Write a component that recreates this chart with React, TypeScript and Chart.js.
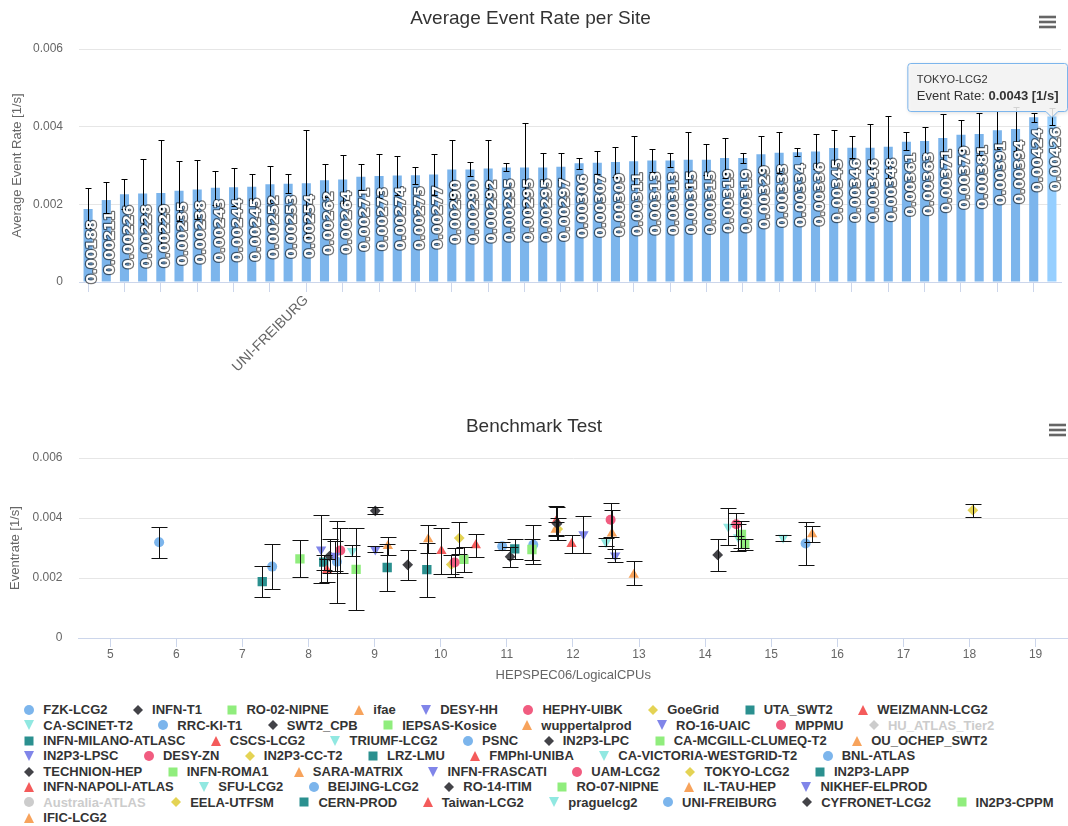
import React, { useEffect, useRef } from 'react';
import { Chart, registerables } from 'chart.js';

Chart.register(...registerables);

// ---------- data ----------
const barSites = [
  'INFN-MILANO-ATLASC', 'wuppertalprod', 'CSCS-LCG2', 'CERN-PROD', 'INFN-ROMA1', 'LRZ-LMU', 'PSNC', 'Australia-ATLAS', 'RO-14-ITIM', 'EELA-UTFSM',
  'UAM-LCG2', 'IN2P3-LAPP', 'UNI-FREIBURG', 'RO-07-NIPNE', 'IEPSAS-Kosice', 'CYFRONET-LCG2', 'TECHNION-HEP', 'RO-16-UAIC', 'INFN-FRASCATI', 'SWT2_CPB',
  'INFN-NAPOLI-ATLAS', 'SFU-LCG2', 'DESY-ZN', 'NIKHEF-ELPROD', 'IN2P3-LPSC', 'RO-02-NIPNE', 'UTA_SWT2', 'FZK-LCG2', 'IL-TAU-HEP', 'FMPhI-UNIBA',
  'RRC-KI-T1', 'Taiwan-LCG2', 'IN2P3-CPPM', 'BNL-ATLAS', 'HU_ATLAS_Tier2', 'BEIJING-LCG2', 'TRIUMF-LCG2', 'SARA-MATRIX', 'IN2P3-CC-T2', 'praguelcg2',
  'CA-VICTORIA-WESTGRID-T2', 'CA-MCGILL-CLUMEQ-T2', 'OU_OCHEP_SWT2', 'DESY-HH', 'IFIC-LCG2', 'ifae', 'GoeGrid', 'CA-SCINET-T2', 'MPPMU', 'INFN-T1',
  'WEIZMANN-LCG2', 'HEPHY-UIBK', 'IN2P3-LPC', 'TOKYO-LCG2',
];

const barValues = [
  0.00188, 0.00211, 0.00226, 0.00228, 0.00229, 0.00235, 0.00238, 0.00243, 0.00244, 0.00245,
  0.00252, 0.00253, 0.00254, 0.00262, 0.00264, 0.00271, 0.00273, 0.00274, 0.00275, 0.00277,
  0.0029, 0.0029, 0.00292, 0.00295, 0.00295, 0.00295, 0.00297, 0.00306, 0.00307, 0.00309,
  0.00311, 0.00313, 0.00313, 0.00315, 0.00315, 0.00319, 0.00319, 0.00329, 0.00333, 0.00334,
  0.00336, 0.00345, 0.00346, 0.00346, 0.00348, 0.00361, 0.00363, 0.00371, 0.00379, 0.00381,
  0.00391, 0.00394, 0.00424, 0.00426,
];

const barErrLow = [
  0.00138, 0.00178, 0.00188, 0.00138, 0.00092, 0.00158, 0.00163, 0.00199, 0.00195, 0.00212,
  0.00204, 0.00228, 0.00117, 0.0022, 0.00204, 0.00238, 0.00217, 0.00223, 0.00252, 0.00225,
  0.00214, 0.00273, 0.00218, 0.00286, 0.00182, 0.00259, 0.00263, 0.00292, 0.00277, 0.0027,
  0.00247, 0.00284, 0.00295, 0.00245, 0.00275, 0.00268, 0.00307, 0.00282, 0.00281, 0.00325,
  0.00291, 0.00299, 0.00319, 0.00285, 0.00268, 0.0034, 0.00326, 0.00309, 0.00341, 0.00326,
  0.00342, 0.00337, 0.00412, 0.00404,
];

const barErrHigh = [
  0.00241, 0.00258, 0.00264, 0.00318, 0.00366, 0.00312, 0.00313, 0.00287, 0.00293, 0.00278,
  0.003, 0.00278, 0.00391, 0.00304, 0.00326, 0.00304, 0.00329, 0.00325, 0.00297, 0.00329,
  0.00366, 0.00309, 0.00366, 0.00306, 0.0041, 0.00331, 0.00331, 0.0032, 0.00337, 0.00348,
  0.00377, 0.00342, 0.00331, 0.00385, 0.00355, 0.0037, 0.00333, 0.00376, 0.00385, 0.00344,
  0.00381, 0.00391, 0.00375, 0.00407, 0.00428, 0.00385, 0.004, 0.00433, 0.00417, 0.00436,
  0.0044, 0.00451, 0.00436, 0.00448,
];

const legendSites = [
  'FZK-LCG2', 'INFN-T1', 'RO-02-NIPNE', 'ifae', 'DESY-HH', 'HEPHY-UIBK', 'GoeGrid', 'UTA_SWT2', 'WEIZMANN-LCG2', 'CA-SCINET-T2',
  'RRC-KI-T1', 'SWT2_CPB', 'IEPSAS-Kosice', 'wuppertalprod', 'RO-16-UAIC', 'MPPMU', 'HU_ATLAS_Tier2', 'INFN-MILANO-ATLASC', 'CSCS-LCG2', 'TRIUMF-LCG2',
  'PSNC', 'IN2P3-LPC', 'CA-MCGILL-CLUMEQ-T2', 'OU_OCHEP_SWT2', 'IN2P3-LPSC', 'DESY-ZN', 'IN2P3-CC-T2', 'LRZ-LMU', 'FMPhI-UNIBA', 'CA-VICTORIA-WESTGRID-T2',
  'BNL-ATLAS', 'TECHNION-HEP', 'INFN-ROMA1', 'SARA-MATRIX', 'INFN-FRASCATI', 'UAM-LCG2', 'TOKYO-LCG2', 'IN2P3-LAPP', 'INFN-NAPOLI-ATLAS', 'SFU-LCG2',
  'BEIJING-LCG2', 'RO-14-ITIM', 'RO-07-NIPNE', 'IL-TAU-HEP', 'NIKHEF-ELPROD', 'Australia-ATLAS', 'EELA-UTFSM', 'CERN-PROD', 'Taiwan-LCG2', 'praguelcg2',
  'UNI-FREIBURG', 'CYFRONET-LCG2', 'IN2P3-CPPM', 'IFIC-LCG2',
];

const hepspec = [
  10.93, 11.76, 11.38, 11.74, 12.16, 12.57, 11.77, 11.12, 11.75, 14.35,
  11.4, 14.19, 7.87, 12.92, 8.4, 14.47, 10.6, 7.3, 8.28, 12.5,
  7.45, 9.01, 14.55, 15.62, 8.19, 8.48, 10.28, 9.19, 10.53, 14.5,
  15.52, 8.32, 8.72, 9.81, 12.64, 10.21, 18.05, 8.23, 10.01, 8.66,
  5.74, 9.5, 10.35, 9.2, 9.01, 9.6, 10.16, 9.79, 11.98, 15.18,
  8.43, 11.05, 14.6, 12.59,
];

const hiddenSites = ['HU_ATLAS_Tier2', 'Australia-ATLAS'];
const shownBarLabels = ['UNI-FREIBURG'];
const tooltipSite = 'TOKYO-LCG2';
const yTicks = [0, 0.002, 0.004, 0.006];
const xTicks = [5, 6, 7, 8, 9, 10, 11, 12, 13, 14, 15, 16, 17, 18, 19];

const palette = ['#7cb5ec', '#434348', '#90ed7d', '#f7a35c', '#8085e9', '#f15c80', '#e4d354', '#2b908f', '#f45b5b', '#91e8e1'];
const symbols = ['circle', 'diamond', 'square', 'triangle', 'triangle-down'];

const FONT = "'Liberation Sans', Arial, Helvetica, sans-serif";

// ---------- plugins ----------
const menuPlugin = {
  id: 'menuIcon',
  afterDraw(chart: any, _a: any, opts: any) {
    const ctx = chart.ctx;
    const x1 = chart.width - 29;
    const x2 = chart.width - 12;
    ctx.save();
    ctx.strokeStyle = '#666666';
    ctx.lineWidth = 2.6;
    [-5, 0, 5].forEach((d) => {
      ctx.beginPath();
      ctx.moveTo(x1, opts.y + d);
      ctx.lineTo(x2, opts.y + d);
      ctx.stroke();
    });
    ctx.restore();
  },
};

const barExtrasPlugin = {
  id: 'barExtras',
  afterDatasetsDraw(chart: any) {
    const ctx = chart.ctx;
    const meta = chart.getDatasetMeta(0);
    const ys = chart.scales.y;
    ctx.save();
    ctx.strokeStyle = '#000000';
    ctx.lineWidth = 1;
    meta.data.forEach((el: any, i: number) => {
      const x = Math.round(el.x) + 0.5;
      const yl = Math.round(ys.getPixelForValue(barErrLow[i])) + 0.5;
      const yh = Math.round(ys.getPixelForValue(barErrHigh[i])) + 0.5;
      ctx.beginPath();
      ctx.moveTo(x, yl);
      ctx.lineTo(x, yh);
      ctx.moveTo(x - 3, yh);
      ctx.lineTo(x + 3, yh);
      ctx.moveTo(x - 3, yl);
      ctx.lineTo(x + 3, yl);
      ctx.stroke();
    });
    ctx.font = "bold 14px 'DejaVu Sans', sans-serif";
    ctx.textAlign = 'right';
    ctx.textBaseline = 'middle';
    ctx.lineJoin = 'round';
    meta.data.forEach((el: any, i: number) => {
      const t = barValues[i].toFixed(5);
      ctx.save();
      ctx.translate(el.x + 4.5, el.y + 11);
      ctx.rotate(-Math.PI / 2);
      ctx.strokeStyle = 'rgba(0,0,0,0.55)';
      ctx.lineWidth = 2.4;
      ctx.strokeText(t, 0, 0);
      ctx.fillStyle = '#ffffff';
      ctx.fillText(t, 0, 0);
      ctx.restore();
    });
    ctx.restore();
  },
  afterDraw(chart: any) {
    const ctx = chart.ctx;
    const i = barSites.indexOf(tooltipSite);
    const el = chart.getDatasetMeta(0).data[i];
    if (!el) return;
    const title = barSites[i];
    const label = 'Event Rate: ';
    const val = barValues[i].toFixed(4) + ' [1/s]';
    ctx.save();
    ctx.font = '11px ' + FONT;
    const tw = ctx.measureText(title).width;
    ctx.font = '13px ' + FONT;
    const lw = ctx.measureText(label).width;
    ctx.font = 'bold 13px ' + FONT;
    const vw = ctx.measureText(val).width;
    const w = Math.max(tw, lw + vw) + 18;
    const h = 48;
    const ax = el.x;
    const bottom = el.y - 6;
    const bx = Math.min(ax - w / 2, chart.width - w - 1) + 0.5;
    const by = Math.round(bottom - h) + 0.5;
    const r = 3;
    const bb = by + h;
    ctx.beginPath();
    ctx.moveTo(bx + r, by);
    ctx.lineTo(bx + w - r, by);
    ctx.arcTo(bx + w, by, bx + w, by + r, r);
    ctx.lineTo(bx + w, bb - r);
    ctx.arcTo(bx + w, bb, bx + w - r, bb, r);
    ctx.lineTo(ax + 6, bb);
    ctx.lineTo(ax, bb + 6);
    ctx.lineTo(ax - 6, bb);
    ctx.lineTo(bx + r, bb);
    ctx.arcTo(bx, bb, bx, bb - r, r);
    ctx.lineTo(bx, by + r);
    ctx.arcTo(bx, by, bx + r, by, r);
    ctx.closePath();
    ctx.shadowColor = 'rgba(0,0,0,0.18)';
    ctx.shadowBlur = 4;
    ctx.shadowOffsetX = 1;
    ctx.shadowOffsetY = 1;
    ctx.fillStyle = 'rgba(247,247,247,0.85)';
    ctx.fill();
    ctx.shadowColor = 'rgba(0,0,0,0)';
    ctx.strokeStyle = '#7cb5ec';
    ctx.lineWidth = 1;
    ctx.stroke();
    ctx.fillStyle = '#333333';
    ctx.textBaseline = 'middle';
    ctx.textAlign = 'left';
    ctx.font = '11px ' + FONT;
    ctx.fillText(title, bx + 9, by + 16.5);
    ctx.font = '13px ' + FONT;
    ctx.fillText(label, bx + 9, by + 32.5);
    ctx.font = 'bold 13px ' + FONT;
    ctx.fillText(val, bx + 9 + lw, by + 32.5);
    ctx.restore();
  },
};

const scatterErrPlugin = {
  id: 'scatterErr',
  afterDatasetsDraw(chart: any) {
    const ctx = chart.ctx;
    const ys = chart.scales.y;
    ctx.save();
    ctx.strokeStyle = '#111111';
    ctx.lineWidth = 1;
    chart.data.datasets.forEach((ds: any, di: number) => {
      if (!chart.isDatasetVisible(di)) return;
      const el = chart.getDatasetMeta(di).data[0];
      if (!el) return;
      const bi = barSites.indexOf(ds.label);
      const x = Math.round(el.x) + 0.5;
      const yl = Math.round(ys.getPixelForValue(barErrLow[bi])) + 0.5;
      const yh = Math.round(ys.getPixelForValue(barErrHigh[bi])) + 0.5;
      ctx.beginPath();
      ctx.moveTo(x, yl);
      ctx.lineTo(x, yh);
      ctx.moveTo(x - 8, yh);
      ctx.lineTo(x + 8, yh);
      ctx.moveTo(x - 8, yl);
      ctx.lineTo(x + 8, yl);
      ctx.stroke();
    });
    ctx.restore();
  },
};

const styleMap: any = { circle: 'circle', diamond: 'rectRot', square: 'rect', triangle: 'triangle', 'triangle-down': 'triangle' };
const radiusMap: any = { circle: 5, diamond: 5.4, square: 6.6, triangle: 6, 'triangle-down': 6 };

function LegendSymbol({ shape, color }: { shape: string; color: string }) {
  let el: any = null;
  if (shape === 'circle') el = <circle cx={7} cy={7} r={5} fill={color} />;
  else if (shape === 'diamond') el = <polygon points="7,2 12,7 7,12 2,7" fill={color} />;
  else if (shape === 'square') el = <rect x={2.5} y={2.5} width={9} height={9} fill={color} />;
  else if (shape === 'triangle') el = <polygon points="7,2 12,12 2,12" fill={color} />;
  else el = <polygon points="2,2 12,2 7,12" fill={color} />;
  return (
    <svg width={14} height={14} style={{ flex: 'none', marginRight: 7, display: 'block' }}>
      {el}
    </svg>
  );
}

export default function App() {
  const topRef = useRef<HTMLCanvasElement>(null);
  const botRef = useRef<HTMLCanvasElement>(null);

  useEffect(() => {
    document.body.style.margin = '0';
    document.body.style.overflow = 'hidden';
    document.documentElement.style.overflow = 'hidden';
    Chart.defaults.font.family = FONT;

    const top = new Chart(topRef.current as any, {
      type: 'bar',
      data: {
        labels: barSites,
        datasets: [
          {
            data: barValues,
            backgroundColor: barSites.map((s) => (s === tooltipSite ? '#96cfff' : '#7cb5ec')),
            borderWidth: 0,
            categoryPercentage: 0.5,
            barPercentage: 1,
          },
        ],
      },
      options: {
        responsive: false,
        animation: false,
        layout: { padding: { left: 0, right: 7, top: 0, bottom: 0 } },
        plugins: {
          legend: { display: false },
          tooltip: { enabled: false },
          title: {
            display: true,
            text: 'Average Event Rate per Site',
            color: '#333333',
            font: { size: 19, weight: 'normal' },
            padding: { top: 7, bottom: 19.2 },
          },
          menuIcon: { y: 22 },
        } as any,
        scales: {
          x: {
            offset: true,
            grid: {
              display: true,
              drawOnChartArea: false,
              drawTicks: true,
              tickLength: 10,
              offset: false,
              tickColor: (c: any) => (c.index % 2 === 0 ? '#ccd6eb' : 'rgba(0,0,0,0)'),
            },
            border: { display: true, color: '#ccd6eb' },
            ticks: {
              autoSkip: false,
              minRotation: 45,
              maxRotation: 45,
              padding: 0,
              color: '#666666',
              font: { size: 14 },
              callback: (_v: any, i: number) => (shownBarLabels.includes(barSites[i]) ? barSites[i] : ''),
            },
            afterFit: (s: any) => {
              s.height = 123;
            },
          },
          y: {
            min: 0,
            max: 0.006,
            afterBuildTicks: (s: any) => {
              s.ticks = yTicks.map((v) => ({ value: v }));
            },
            grid: {
              color: (c: any) => (c.tick && c.tick.value === 0 ? 'rgba(0,0,0,0)' : '#e6e6e6'),
              drawTicks: false,
            },
            border: { display: false },
            ticks: {
              padding: 16,
              color: '#666666',
              font: { size: 12 },
              callback: (v: any) => (Number(v) === 0 ? '0' : Number(v).toFixed(3)),
            },
            title: {
              display: true,
              text: 'Average Event Rate [1/s]',
              color: '#666666',
              font: { size: 13 },
              padding: { top: 9.9, bottom: 0 },
            },
            afterFit: (s: any) => {
              s.width = 79;
            },
          },
        },
      } as any,
      plugins: [barExtrasPlugin, menuPlugin],
    });

    const datasets = legendSites.map((site, i) => {
      const sym = symbols[i % 5];
      const color = palette[i % 10];
      const bi = barSites.indexOf(site);
      return {
        label: site,
        data: [{ x: hepspec[i], y: barValues[bi] }],
        backgroundColor: color,
        borderColor: color,
        pointBackgroundColor: color,
        pointBorderWidth: 0,
        pointStyle: styleMap[sym],
        pointRotation: sym === 'triangle-down' ? 180 : 0,
        pointRadius: radiusMap[sym],
        pointHoverRadius: radiusMap[sym],
        hidden: hiddenSites.includes(site),
      };
    });

    const bot = new Chart(botRef.current as any, {
      type: 'scatter',
      data: { datasets },
      options: {
        responsive: false,
        animation: false,
        layout: { padding: { left: 0, right: 10, top: 0, bottom: 0 } },
        plugins: {
          legend: { display: false },
          tooltip: { enabled: false },
          title: {
            display: true,
            text: 'Benchmark Test',
            color: '#333333',
            font: { size: 19, weight: 'normal' },
            padding: { top: 10.6, bottom: 19.6 },
          },
          menuIcon: { y: 25 },
        } as any,
        scales: {
          x: {
            type: 'linear',
            min: 4.52,
            max: 19.49,
            afterBuildTicks: (s: any) => {
              s.ticks = xTicks.map((v) => ({ value: v }));
            },
            grid: { drawOnChartArea: false, drawTicks: true, tickLength: 9, tickColor: '#ccd6eb' },
            border: { display: true, color: '#ccd6eb' },
            ticks: { padding: 0, color: '#666666', font: { size: 12 }, maxRotation: 0, autoSkip: false },
            title: {
              display: true,
              text: 'HEPSPEC06/LogicalCPUs',
              color: '#666666',
              font: { size: 13 },
              padding: { top: 0, bottom: 4 },
            },
            afterFit: (s: any) => {
              s.height = 49;
            },
          },
          y: {
            min: 0,
            max: 0.006,
            afterBuildTicks: (s: any) => {
              s.ticks = yTicks.map((v) => ({ value: v }));
            },
            grid: {
              color: (c: any) => (c.tick && c.tick.value === 0 ? 'rgba(0,0,0,0)' : '#e6e6e6'),
              drawTicks: false,
            },
            border: { display: false },
            ticks: {
              padding: 16,
              color: '#666666',
              font: { size: 12 },
              callback: (v: any) => (Number(v) === 0 ? '0' : Number(v).toFixed(3)),
            },
            title: {
              display: true,
              text: 'Eventrate [1/s]',
              color: '#666666',
              font: { size: 13 },
              padding: { top: 7.7, bottom: 0 },
            },
            afterFit: (s: any) => {
              s.width = 78.5;
            },
          },
        },
      } as any,
      plugins: [scatterErrPlugin, menuPlugin],
    });

    return () => {
      top.destroy();
      bot.destroy();
    };
  }, []);

  return (
    <div style={{ width: 1068, height: 826, overflow: 'hidden', position: 'relative', background: '#ffffff', fontFamily: FONT }}>
      <div style={{ width: 1068, height: 405 }}>
        <canvas ref={topRef} width={1068} height={405} style={{ display: 'block', width: 1068, height: 405 }} />
      </div>
      <div style={{ width: 1078, height: 282 }}>
        <canvas ref={botRef} width={1078} height={282} style={{ display: 'block', width: 1078, height: 282 }} />
      </div>
      <div
        style={{
          display: 'flex',
          flexWrap: 'wrap',
          columnGap: 23.5,
          rowGap: 0,
          marginLeft: 22.3,
          marginTop: 15.3,
          width: 1032,
        }}
      >
        {legendSites.map((s, i) => {
          const hidden = hiddenSites.includes(s);
          const color = hidden ? '#cccccc' : palette[i % 10];
          return (
            <div
              key={s}
              style={{
                display: 'flex',
                alignItems: 'center',
                height: 15.4,
                font: 'bold 13px ' + FONT,
                color: hidden ? '#cccccc' : '#333333',
                whiteSpace: 'nowrap',
              }}
            >
              <LegendSymbol shape={symbols[i % 5]} color={color} />
              <span style={{ lineHeight: '15.4px' }}>{s}</span>
            </div>
          );
        })}
      </div>
    </div>
  );
}
